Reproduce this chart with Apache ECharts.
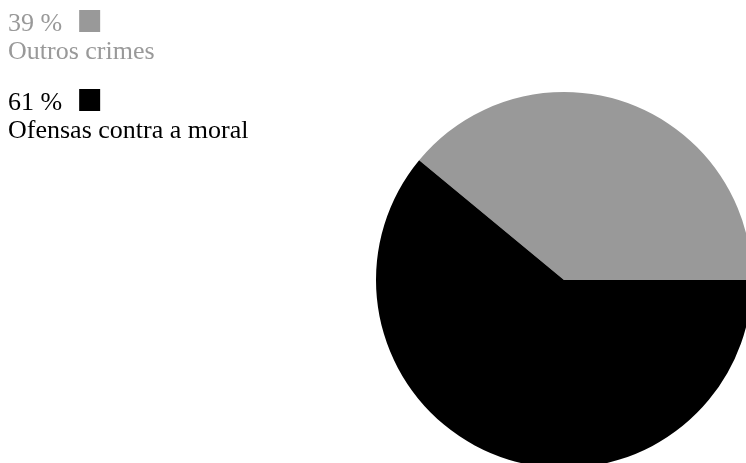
<!DOCTYPE html>
<html>
<head>
<meta charset="utf-8">
<script src="https://cdn.jsdelivr.net/npm/echarts@6/dist/echarts.min.js"></script>
<style>
  html, body { margin: 0; padding: 0; background: #fff; }
  #chart { width: 746px; height: 463px; }
</style>
</head>
<body>
<div id="chart"></div>
<script>
// Share of offences by category
const categories = ['Outros crimes', 'Ofensas contra a moral'];
const percents = [39, 61];
const colors = ['#999999', '#000000'];

const FONT = '"Liberation Serif", "Times New Roman", serif';

const legendData = categories.map((name, i) => ({
  name: name,
  textStyle: {
    color: colors[i],
    rich: {
      p: { fontSize: 26, fontFamily: FONT, color: colors[i], lineHeight: 28 },
      g: { width: 17, height: 1 },
      sq: { width: 21, height: 22, backgroundColor: colors[i], verticalAlign: 'top' },
      n: { fontSize: 26, fontFamily: FONT, color: colors[i], lineHeight: 28 }
    }
  }
}));

const chart = echarts.init(document.getElementById('chart'), null, { renderer: 'canvas' });
chart.setOption({
  animation: false,
  legend: {
    orient: 'vertical',
    left: 3,
    top: 10,
    padding: 0,
    icon: 'none',
    itemWidth: 0,
    itemHeight: 0,
    itemGap: 24,
    selectedMode: false,
    data: legendData,
    formatter: function (name) {
      const i = categories.indexOf(name);
      return '{p|' + percents[i] + ' %}{g|}{sq|}\n{n|' + name + '}';
    }
  },
  series: [{
    type: 'pie',
    center: [564, 280],
    radius: 188,
    startAngle: 0,
    clockwise: false,
    silent: true,
    label: { show: false },
    labelLine: { show: false },
    emphasis: { disabled: true },
    itemStyle: { borderWidth: 0 },
    data: categories.map((name, i) => ({
      name: name,
      value: percents[i],
      itemStyle: { color: colors[i] }
    }))
  }]
});
</script>
</body>
</html>
